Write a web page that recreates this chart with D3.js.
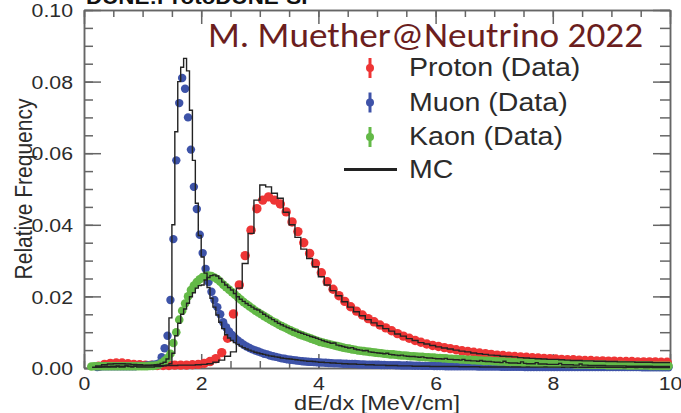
<!DOCTYPE html>
<html>
<head>
<meta charset="utf-8">
<script src="https://cdn.jsdelivr.net/npm/d3@7"></script>
<style>
  body { margin: 0; background: #fff; }
  svg { display: block; }
</style>
</head>
<body>
<div id="chart"></div>
<script>
// all frequencies in units of 1e-3; proton uses 0.1 MeV/cm bins, muon and kaon 0.05
const protonData = [
  0, 0, 0.5, 1.0, 1.3, 1.4, 1.4, 1.2, 1.0, 0.9,
  0.8, 0.8, 0.7, 0.7, 0.7, 0.8, 0.8, 0.8, 0.9, 1.0,
  1.3, 1.8, 2.6, 4.3, 8.3, 15.1, 23.2, 31.4, 38.5, 44.5,
  46.9, 47.8, 46.9, 45.8, 43.6, 40.8, 38.1, 35.0, 32.0, 29.2,
  26.6, 24.1, 22.0, 20.2, 18.6, 17.1, 15.9, 14.8, 13.8, 12.9,
  12.0, 11.2, 10.4, 9.6, 8.9, 8.3, 7.7, 7.2, 6.7, 6.3,
  6.0, 5.7, 5.4, 5.1, 4.8, 4.6, 4.4, 4.2, 4.0, 3.8,
  3.6, 3.5, 3.3, 3.2, 3.1, 3.0, 2.9, 2.8, 2.7, 2.6,
  2.5, 2.4, 2.3, 2.3, 2.2, 2.1, 2.1, 2.0, 2.0, 1.9,
  1.9, 1.8, 1.8, 1.8, 1.7, 1.7, 1.7, 1.7, 1.6, 1.6
];
const protonMC = [
  0, 0, 0.6, 0.9, 1.1, 1.2, 1.2, 1.1, 1.0, 0.9,
  0.8, 0.8, 0.7, 0.7, 0.7, 0.7, 0.8, 0.8, 0.8, 0.9,
  1.0, 1.2, 1.6, 2.2, 3.3, 4.5, 22.3, 29.2, 37.6, 46.9,
  51.1, 50.6, 48.8, 47.4, 43.5, 40.0, 36.5, 33.2, 30.6, 28.3,
  25.5, 23.2, 21.6, 20.2, 18.5, 17.0, 15.7, 14.6, 13.5, 12.6,
  11.8, 11.0, 10.3, 9.5, 8.9, 8.2, 7.7, 7.1, 6.7, 6.3,
  5.9, 5.6, 5.3, 5.0, 4.7, 4.5, 4.2, 4.0, 3.8, 3.6,
  3.5, 3.3, 3.2, 3.1, 2.9, 2.8, 2.7, 2.6, 2.5, 2.4,
  2.4, 2.3, 2.2, 2.1, 2.1, 2.0, 2.0, 1.9, 1.9, 1.8,
  1.8, 1.7, 1.7, 1.7, 1.6, 1.6, 1.6, 1.5, 1.5, 1.5
];
const muonData = [
  0, 0, 0, 0, 0.3, 0.4, 0.5, 0.5, 0.5, 0.5, 0.5, 0.5, 0.5, 0.5, 0.5, 0.5, 0.5, 0.5, 0.6, 0.6,
  0.6, 0.7, 0.8, 0.9, 1.0, 1.3, 3.0, 5.5, 9.0, 19.0, 36.0, 58.0, 74.0, 81.0, 78.0, 70.0, 61.0, 50.6, 44.4, 37.2,
  32.1, 27.7, 24.0, 21.3, 19.0, 17.0, 15.0, 12.8, 11.4, 10.2, 9.2, 8.4, 7.7, 7.1, 6.5, 6.0, 5.6, 5.2, 4.9, 4.6,
  4.3, 4.0, 3.8, 3.5, 3.3, 3.1, 2.9, 2.7, 2.6, 2.4, 2.3, 2.2, 2.1, 2.0, 1.9, 1.8, 1.75, 1.7, 1.65, 1.6,
  1.55, 1.5, 1.45, 1.4, 1.35, 1.3, 1.3, 1.25, 1.2, 1.2, 1.15, 1.1, 1.1, 1.05, 1.0, 1.0, 0.95, 0.95, 0.9, 0.9,
  0.9, 0.85, 0.85, 0.8, 0.8, 0.8, 0.75, 0.75, 0.7, 0.7, 0.7, 0.7, 0.65, 0.65, 0.65, 0.6, 0.6, 0.6, 0.6, 0.55,
  0.55, 0.55, 0.55, 0.5, 0.5, 0.5, 0.5, 0.5, 0.45, 0.45, 0.45, 0.45, 0.45, 0.45, 0.4, 0.4, 0.4, 0.4, 0.4, 0.4,
  0.4, 0.4, 0.35, 0.35, 0.35, 0.35, 0.35, 0.35, 0.35, 0.35, 0.3, 0.3, 0.3, 0.3, 0.3, 0.3, 0.3, 0.3, 0.3, 0.3,
  0.3, 0.3, 0.3, 0.3, 0.3, 0.3, 0.3, 0.3, 0.3, 0.3, 0.25, 0.25, 0.25, 0.25, 0.25, 0.25, 0.25, 0.25, 0.25, 0.25,
  0.25, 0.25, 0.25, 0.25, 0.25, 0.25, 0.25, 0.25, 0.25, 0.25, 0.2, 0.2, 0.2, 0.2, 0.2, 0.2, 0.2, 0.2, 0.2, 0.2
];
const muonMC = [
  0, 0, 0, 0, 0.3, 0.3, 0.4, 0.5, 0.4, 0.5, 0.5, 0.4, 0.5, 0.5, 0.6, 0.5, 0.5, 0.6, 0.6, 0.6,
  0.6, 0.7, 0.7, 0.8, 0.9, 1.0, 1.3, 1.6, 2.5, 14.0, 40.0, 66.0, 80.0, 84.0, 86.5, 83.0, 72.0, 58.0, 46.0, 37.0,
  31.0, 26.5, 22.5, 19.5, 17.0, 14.8, 12.8, 11.0, 9.3, 8.4, 7.7, 7.1, 6.6, 6.1, 5.7, 5.3, 5.0, 4.7, 4.4, 4.2,
  4.0, 3.8, 3.6, 3.4, 3.3, 3.1, 3.0, 2.8, 2.7, 2.6, 2.5, 2.4, 2.3, 2.2, 2.1, 2.0, 1.9, 1.9, 1.8, 1.7,
  1.6, 1.6, 1.5, 1.5, 1.4, 1.4, 1.3, 1.3, 1.2, 1.2, 1.1, 1.1, 1.1, 1.0, 1.0, 1.0, 0.9, 0.9, 0.9, 0.8,
  0.8, 0.8, 0.8, 0.7, 0.7, 0.7, 0.7, 0.6, 0.6, 0.6, 0.6, 0.6, 0.5, 0.5, 0.5, 0.5, 0.5, 0.5, 0.4, 0.4,
  0.4, 0.4, 0.4, 0.4, 0.4, 0.4, 0.4, 0.4, 0.35, 0.35, 0.35, 0.35, 0.35, 0.35, 0.35, 0.3, 0.3, 0.3, 0.3, 0.3,
  0.3, 0.3, 0.3, 0.3, 0.3, 0.25, 0.3, 0.3, 0.3, 0.25, 0.25, 0.3, 0.25, 0.25, 0.25, 0.25, 0.25, 0.3, 0.25, 0.25,
  0.25, 0.25, 0.25, 0.2, 0.25, 0.25, 0.2, 0.2, 0.25, 0.2, 0.2, 0.2, 0.2, 0.2, 0.25, 0.2, 0.2, 0.2, 0.2, 0.2,
  0.2, 0.2, 0.2, 0.2, 0.15, 0.2, 0.2, 0.2, 0.15, 0.2, 0.2, 0.15, 0.15, 0.2, 0.15, 0.15, 0.15, 0.15, 0.15, 0.15
];
const kaonData = [
  0, 0, 0.4, 0.5, 0.5, 0.5, 0.5, 0.5, 0.5, 0.5, 0.5, 0.5, 0.5, 0.5, 0.5, 0.5, 0.5, 0.5, 0.5, 0.5,
  0.5, 0.5, 0.6, 0.6, 0.7, 0.9, 1.4, 2.0, 2.8, 4.0, 7.0, 10.0, 13.5, 16.0, 18.0, 20.0, 21.8, 23.0, 24.0, 24.8,
  25.4, 25.7, 25.8, 25.7, 25.3, 24.8, 24.1, 23.3, 22.6, 21.9, 21.2, 20.5, 19.8, 19.1, 18.4, 17.8, 17.2, 16.6, 16.0, 15.5,
  15.0, 14.5, 14.0, 13.5, 13.0, 12.6, 12.1, 11.7, 11.3, 10.9, 10.5, 10.1, 9.8, 9.4, 9.1, 8.8, 8.5, 8.2, 7.9, 7.6,
  7.3, 7.1, 6.9, 6.7, 6.5, 6.3, 6.1, 5.9, 5.7, 5.5, 5.4, 5.2, 5.1, 4.9, 4.8, 4.7, 4.6, 4.5, 4.4, 4.3,
  4.2, 4.1, 4.0, 3.9, 3.8, 3.8, 3.7, 3.6, 3.5, 3.5, 3.4, 3.3, 3.3, 3.2, 3.1, 3.1, 3.0, 3.0, 2.9, 2.9,
  2.8, 2.8, 2.7, 2.7, 2.6, 2.6, 2.5, 2.5, 2.4, 2.4, 2.3, 2.3, 2.2, 2.2, 2.1, 2.1, 2.0, 2.0, 2.0, 1.9,
  1.9, 1.8, 1.8, 1.8, 1.7, 1.7, 1.6, 1.6, 1.6, 1.5, 1.5, 1.5, 1.4, 1.4, 1.4, 1.3, 1.3, 1.3, 1.3, 1.2,
  1.2, 1.2, 1.2, 1.1, 1.1, 1.1, 1.1, 1.0, 1.0, 1.0, 1.0, 1.0, 0.9, 0.9, 0.9, 0.9, 0.9, 0.9, 0.8, 0.8,
  0.8, 0.8, 0.8, 0.8, 0.8, 0.7, 0.7, 0.7, 0.7, 0.7, 0.7, 0.7, 0.7, 0.6, 0.6, 0.6, 0.6, 0.6, 0.6, 0.6
];
const kaonMC = [
  0, 0, 0, 0.2, 0.3, 0.3, 0.3, 0.3, 0.3, 0.3, 0.3, 0.6, 0.3, 0.3, 0.6, 0.4, 0.3, 0.5, 0.3, 0.3,
  0.3, 0.3, 0.3, 0.3, 0.4, 0.4, 0.5, 0.6, 0.8, 1.2, 4.1, 9.0, 12.5, 15.0, 16.5, 18.1, 19.9, 21.0, 22.3, 23.0,
  23.2, 24.6, 25.3, 25.8, 26.0, 25.7, 25.0, 24.0, 23.2, 22.5, 21.8, 20.8, 19.9, 19.2, 18.6, 18.0, 17.5, 17.0, 16.5, 16.2,
  15.6, 15.0, 14.5, 14.0, 13.5, 13.0, 12.5, 12.1, 11.7, 11.3, 11.0, 10.6, 10.3, 10.0, 9.7, 9.4, 9.1, 8.8, 8.6, 8.3,
  8.0, 7.7, 7.4, 7.2, 6.9, 7.0, 6.4, 6.2, 6.0, 5.8, 5.6, 5.7, 5.3, 5.1, 5.0, 4.8, 4.9, 4.5, 4.4, 4.3,
  4.2, 4.1, 4.0, 4.1, 3.8, 3.7, 3.6, 3.5, 3.6, 3.4, 3.3, 3.2, 3.2, 3.1, 3.0, 3.1, 2.9, 2.8, 2.8, 2.7,
  2.6, 2.6, 2.5, 2.7, 2.4, 2.4, 2.3, 2.3, 2.2, 2.4, 2.1, 2.1, 2.0, 2.0, 1.9, 2.1, 1.9, 1.8, 1.8, 1.7,
  1.6, 1.6, 1.5, 1.9, 1.5, 1.4, 1.4, 1.4, 1.3, 1.7, 1.3, 1.2, 1.2, 1.2, 1.5, 1.1, 1.1, 1.1, 1.0, 1.0,
  1.0, 1.0, 1.3, 0.9, 0.9, 0.9, 0.9, 0.8, 0.8, 1.1, 0.8, 0.8, 0.7, 0.7, 0.7, 0.7, 0.7, 0.7, 0.6, 0.6,
  0.6, 0.6, 0.6, 0.6, 0.6, 0.5, 0.5, 0.5, 0.5, 0.5, 0.5, 0.5, 0.5, 0.5, 0.4, 0.4, 0.4, 0.4, 0.4, 0.4
];

const xTicks = [0, 2, 4, 6, 8, 10];
const yTicks = [0, 0.02, 0.04, 0.06, 0.08, 0.10];
const legendLabels = ["Proton (Data)", "Muon (Data)", "Kaon (Data)", "MC"];
const colors = {proton: "#ee3535", muon: "#3e52a8", kaon: "#63b947"};

let width = 681, height = 413;
let margin = {top: 10, right: 11, bottom: 45, left: 84};
const sx = 1.12; // the slide stretches the plot sideways

const svg = d3.select("#chart").append("svg")
    .attr("width", width)
    .attr("height", height)
    .style("font-family", "'Liberation Sans', Arial, sans-serif");

// soft edge on the markers, like the scanned slide
svg.append("defs").append("filter").attr("id", "soft")
    .append("feGaussianBlur").attr("stdDeviation", 0.45);

const x = d3.scaleLinear().domain([0, 10]).range([margin.left, width - margin.right]);
const y = d3.scaleLinear().domain([0, 0.1]).range([height - margin.bottom, margin.top]);

const minorX = d3.range(0, 10.001, 0.5);
const minorY = d3.range(0, 0.1001, 0.005);

// frame with inward ticks on all four sides
function styleAxis(g) {
    g.selectAll("path, line").attr("stroke", "#666").attr("stroke-width", 1.5);
}
const yb = y(0), yt = y(0.1), xl = x(0), xr = x(10);

svg.append("g").attr("transform", `translate(0,${yb})`)
    .call(d3.axisBottom(x).tickValues(minorX).tickSize(-7).tickSizeOuter(0).tickFormat(""))
    .call(styleAxis);
let xAxis = svg.append("g").attr("transform", `translate(0,${yb})`)
    .call(d3.axisBottom(x).tickValues(xTicks).tickSize(-14).tickSizeOuter(0).tickPadding(9).tickFormat(d3.format("d")))
    .call(styleAxis);
svg.append("g").attr("transform", `translate(0,${yt})`)
    .call(d3.axisTop(x).tickValues(minorX).tickSize(-7).tickSizeOuter(0).tickFormat(""))
    .call(styleAxis);
svg.append("g").attr("transform", `translate(0,${yt})`)
    .call(d3.axisTop(x).tickValues(xTicks).tickSize(-14).tickSizeOuter(0).tickFormat(""))
    .call(styleAxis);
svg.append("g").attr("transform", `translate(${xl},0)`)
    .call(d3.axisLeft(y).tickValues(minorY).tickSize(-9).tickSizeOuter(0).tickFormat(""))
    .call(styleAxis);
let yAxis = svg.append("g").attr("transform", `translate(${xl},0)`)
    .call(d3.axisLeft(y).tickValues(yTicks).tickSize(-17).tickSizeOuter(0).tickPadding(11).tickFormat(d3.format(".2f")))
    .call(styleAxis);
svg.append("g").attr("transform", `translate(${xr},0)`)
    .call(d3.axisRight(y).tickValues(minorY).tickSize(-10).tickSizeOuter(0).tickFormat(""))
    .call(styleAxis);
svg.append("g").attr("transform", `translate(${xr},0)`)
    .call(d3.axisRight(y).tickValues(yTicks).tickSize(-17).tickSizeOuter(0).tickFormat(""))
    .call(styleAxis);

[xAxis, yAxis].forEach(a => a.selectAll("text")
    .attr("font-size", 19)
    .attr("font-family", "'Liberation Sans', Arial, sans-serif")
    .attr("fill", "#2b2b2b")
    .attr("transform", `scale(${sx},1)`));
yAxis.selectAll("text").attr("x", -11 / sx).attr("dy", "0.35em");

// data points
function points(vals, color, r) {
    let bw = 10 / vals.length;
    svg.append("g").attr("filter", "url(#soft)").selectAll("circle")
        .data(vals.map((v, i) => [(i + 0.5) * bw, v * 1e-3]).filter(d => d[1] > 0))
        .join("circle")
        .attr("cx", d => x(d[0]))
        .attr("cy", d => y(d[1]))
        .attr("r", r)
        .attr("fill", color);
}
points(protonData, colors.proton, 4.7);
points(muonData, colors.muon, 4.2);
points(kaonData, colors.kaon, 4.3);

// MC histograms as step lines
const step = d3.line().x(d => x(d[0])).y(d => y(d[1])).curve(d3.curveStepAfter);
function histo(vals) {
    let bw = 10 / vals.length;
    let start = vals.findIndex(v => v > 0);
    let pts = [[start * bw, 0]];
    vals.slice(start).forEach((v, j) => pts.push([(start + j) * bw, v * 1e-3]));
    pts.push([10, vals[vals.length - 1] * 1e-3]);
    svg.append("path").attr("d", step(pts))
        .attr("fill", "none").attr("stroke", "#222").attr("stroke-width", 1.4);
}
histo(protonMC);
histo(muonMC);
histo(kaonMC);

// texts
function label(str, px, py, size, opts = {}) {
    return svg.append("text")
        .attr("transform", `translate(${px},${py}) scale(${sx},1)` + (opts.rotate ? ` rotate(${opts.rotate})` : ""))
        .attr("font-size", size)
        .attr("font-weight", opts.weight || "normal")
        .attr("text-anchor", opts.anchor || "start")
        .attr("fill", opts.fill || "#2b2b2b")
        .text(str);
}
label("DUNE:ProtoDUNE-SP", 86, 4, 20, {weight: "bold", fill: "#111"});
label("Relative Frequency", 31.5, (yb + yt) / 2, 21, {rotate: -90, anchor: "middle"});
label("dE/dx [MeV/cm]", x(5), 409.5, 21, {anchor: "middle"});

svg.append("text")
    .attr("x", 208).attr("y", 46.5)
    .attr("font-family", "Carlito, Calibri, Lato, sans-serif")
    .attr("font-size", 34)
    .attr("fill", "#6b1e1e")
    .attr("textLength", 435)
    .attr("lengthAdjust", "spacingAndGlyphs")
    .text("M. Muether@Neutrino 2022");

// legend
const legendColors = [colors.proton, colors.muon, colors.kaon];
const legendRows = [68, 102.5, 137, 169.5];
legendColors.forEach((c, i) => {
    svg.append("line").attr("x1", 370).attr("x2", 370)
        .attr("y1", legendRows[i] - 10).attr("y2", legendRows[i] + 10)
        .attr("stroke", c).attr("stroke-width", 3);
    svg.append("circle").attr("cx", 370).attr("cy", legendRows[i]).attr("r", 4).attr("fill", c);
});
svg.append("line").attr("x1", 344).attr("x2", 397)
    .attr("y1", legendRows[3]).attr("y2", legendRows[3])
    .attr("stroke", "#222").attr("stroke-width", 3);
legendLabels.forEach((t, i) => label(t, 409, legendRows[i] + 8, 25.5));
</script>
</body>
</html>
